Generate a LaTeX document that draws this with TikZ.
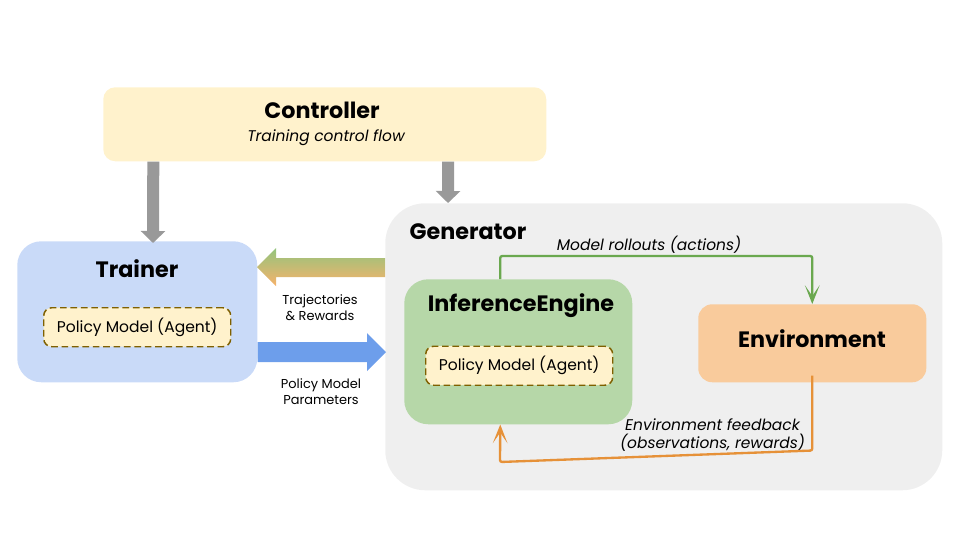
\documentclass[tikz,border=0pt]{standalone}
\usepackage{fontspec}
\setmainfont{Poppins}
\usepackage{tikz}
\usetikzlibrary{arrows.meta}

\definecolor{ctrlyellow}{RGB}{255,242,204}
\definecolor{trainerblue}{RGB}{201,218,248}
\definecolor{enginegreen}{RGB}{182,215,168}
\definecolor{envorange}{RGB}{249,203,156}
\definecolor{genegray}{RGB}{239,239,239}
\definecolor{dashbrown}{RGB}{127,96,0}
\definecolor{rolloutgreen}{RGB}{106,168,79}
\definecolor{feedbackorange}{RGB}{230,145,56}
\definecolor{paramblue}{RGB}{109,158,235}
\definecolor{flowgray}{RGB}{153,153,153}
\definecolor{shadegreen}{RGB}{147,196,125}
\definecolor{shadeorange}{RGB}{246,178,107}

\tikzset{
  box/.style={anchor=north west,inner sep=0pt,draw=none},
  policybox/.style={box,fill=ctrlyellow,draw=dashbrown,line width=1.1pt,
    dash pattern=on 5pt off 2.8pt,rounded corners=6pt,
    minimum width=140.25pt,minimum height=29.25pt,
    font=\fontsize{11.65}{13}\selectfont},
  title/.style={inner sep=0.75pt,font=\fontsize{16.7}{20}\selectfont\bfseries},
  smalltext/.style={inner sep=0.75pt,align=center,font=\fontsize{9.7}{12}\selectfont},
  flowtext/.style={inner sep=0.75pt,align=center,font=\fontsize{11.6}{13.5}\selectfont\itshape},
  grayflow/.style={draw=flowgray,line width=9pt,-{Triangle[length=9pt,width=18pt]}},
  thinflow/.style={line width=1.75pt,rounded corners=1.5pt,-{Stealth[length=14pt,width=11pt,inset=8pt]}},
}

\begin{document}
\begin{tikzpicture}[x=0.75pt,y=0.75pt,yscale=-1,xscale=1]
\useasboundingbox (0,0) rectangle (960,540);

% Boxes
\node (controller) [box,fill=ctrlyellow,rounded corners=9pt,minimum width=332.25pt,minimum height=55.5pt] at (103,87) {};
\node (trainer) [box,fill=trainerblue,rounded corners=18pt,minimum width=180pt,minimum height=105.75pt] at (17,241) {};
\node (generator) [box,fill=genegray,rounded corners=30pt,minimum width=417.75pt,minimum height=215.25pt] at (385,203) {};
\node (engine) [box,fill=enginegreen,rounded corners=18pt,minimum width=171pt,minimum height=108.75pt] at (404,279) {};
\node (environment) [box,fill=envorange,rounded corners=10.5pt,minimum width=171pt,minimum height=58.5pt] at (698,304) {};
\node (trainerpolicy) [policybox] at (43,307) {Policy Model (Agent)};
\node (enginepolicy) [policybox] at (425,345.5) {Policy Model (Agent)};

% Text Node
\node (controllertitle) [title] at (322,110) {Controller};
\node (controllernote) [flowtext] at (326,138) {Training control flow};
\node (trainertitle) [title] at (137,269) {Trainer};
\node (generatortitle) [title] at (468,232) {Generator};
\node (enginetitle) [title] at (521,306) {InferenceEngine};
\node (environmenttitle) [title] at (812,339) {Environment};
\node (rolloutlabel) [flowtext] at (649,245) {Model rollouts (actions)};
\node (feedbacklabel) [flowtext] at (712.5,435) {Environment feedback\\(observations, rewards)};
\node (trajectorylabel) [smalltext] at (320,308) {Trajectories\\\& Rewards};
\node (parameterlabel) [smalltext] at (321,392) {Policy Model\\Parameters};

%Straight Lines
\draw [grayflow] ([xshift=-128.6pt]controller.south) -- ([yshift=1.5pt]trainer.north -| 153,0);
\draw [grayflow] ([xshift=92.6pt]controller.south) -- (generator.north -| 448,0);

%Block Arrows
\shade [top color=shadegreen,bottom color=shadeorange]
  (generator.west |- 0,258) -- (276,258) -- (276,248) -- (257,267) -- (276,286) -- (276,277) -- (generator.west |- 0,277) -- cycle;
\fill [paramblue] (trainer.east |- 0,342) -- (367,342) -- (367,333) -- (386,352) -- (367,371) -- (367,362) -- (trainer.east |- 0,362) -- cycle;

%Thin Arrows
\draw [thinflow,rolloutgreen] ([xshift=-13.5pt]engine.north) -- ++(0,-23) -| (environment.north);
\draw [thinflow,feedbackorange] ([yshift=-5.25pt]environment.south) -- ++(0,75) -- (500,462) -- ([xshift=-13.5pt]engine.south);

\end{tikzpicture}
\end{document}
